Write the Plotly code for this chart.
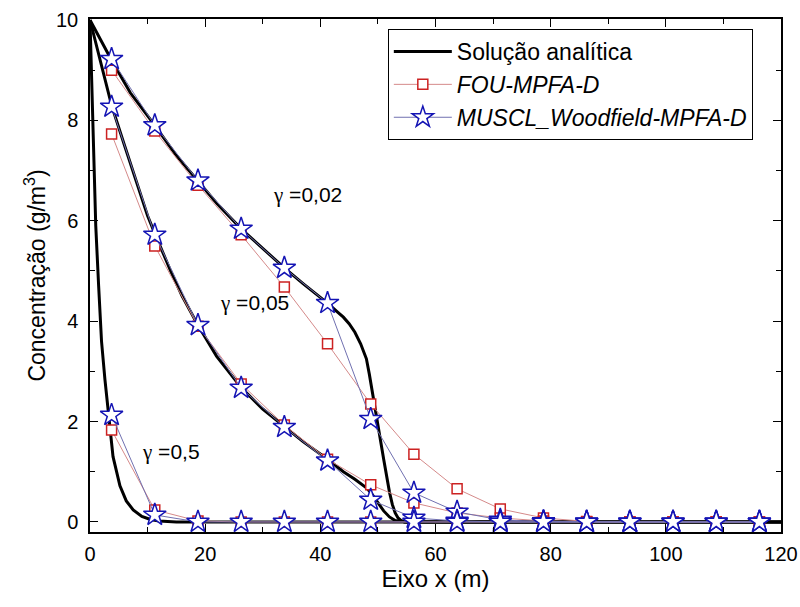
import plotly.graph_objects as go

# marker positions (cell centres)
x_cells = [3.75, 11.25, 18.75, 26.25, 33.75, 41.25, 48.75, 56.25,
           63.75, 71.25, 78.75, 86.25, 93.75, 101.25, 108.75, 116.25]

# FOU-MPFA-D
fou_002 = [9.0, 7.79, 6.71, 5.72, 4.68, 3.55, 2.35, 1.35, 0.66, 0.26, 0.08, 0.01, 0, 0, 0, 0]
fou_005 = [7.73, 5.5, 3.9, 2.75, 1.93, 1.25, 0.74, 0.38, 0.18, 0.08, 0.02, 0, 0, 0, 0, 0]
fou_05 = [1.83, 0.24, 0.02, 0, 0, 0, 0, 0, 0, 0, 0, 0, 0, 0, 0, 0]

# MUSCL_Woodfield-MPFA-D
muscl_002 = [9.22, 7.9, 6.8, 5.84, 5.06, 4.36, 2.05, 0.58, 0.2, 0.04, 0.01, 0, 0, 0, 0, 0]
muscl_005 = [8.27, 5.72, 3.92, 2.67, 1.89, 1.22, 0.44, 0.08, 0.02, 0, 0, 0, 0, 0, 0, 0]
muscl_05 = [2.13, 0.14, 0, 0, 0, 0, 0, 0, 0, 0, 0, 0, 0, 0, 0, 0]

# analytic solutions
ana_002_x = [0, 3.75, 7, 11.25, 15, 18.75, 22, 26.25, 30, 33.75, 37, 41.25, 43, 44, 45, 46,
             47, 48, 48.5, 49, 50, 51, 52, 52.5, 53, 53.5, 54, 54.6, 120]
ana_002_y = [10, 9.2, 8.55, 7.9, 7.3, 6.8, 6.35, 5.84, 5.45, 5.06, 4.75, 4.36, 4.18, 4.08, 3.95, 3.78,
             3.55, 3.25, 2.95, 2.6, 1.9, 1.25, 0.6, 0.35, 0.18, 0.08, 0.03, 0, 0]
ana_005_x = [0, 2, 3.75, 6, 8, 10, 11.25, 14, 16, 18.75, 22, 26.25, 30, 33.75, 37, 41.25,
             44, 46, 48, 49, 50, 51, 52, 53, 55, 120]
ana_005_y = [10, 9.1, 8.3, 7.5, 6.8, 6.1, 5.75, 5.0, 4.5, 3.92, 3.3, 2.68, 2.25, 1.9, 1.6, 1.25,
             1.0, 0.85, 0.68, 0.55, 0.38, 0.22, 0.1, 0.03, 0, 0]
ana_05_x = [0, 0.5, 1, 1.5, 2, 2.6, 3.5, 4, 5.2, 6.3, 7.5, 9, 10.5, 12, 15, 120]
ana_05_y = [10, 7.8, 5.9, 4.7, 3.6, 2.83, 1.83, 1.3, 0.72, 0.42, 0.24, 0.11, 0.05, 0.02, 0, 0]

gamma_labels = ["=0,02", "=0,05", "=0,5"]
gamma_pos = [(37.8, 6.51), (28.6, 4.36), (14.1, 1.39)]

BLACK = "black"
RED_M = "#cc2222"
RED_L = "#d58a8a"
BLUE_M = "#1414b4"
BLUE_L = "#7070b0"
FONT = "Liberation Sans, Arial"

fig = go.Figure()

for i, (ax, ay) in enumerate([(ana_002_x, ana_002_y), (ana_005_x, ana_005_y), (ana_05_x, ana_05_y)]):
    fig.add_trace(go.Scatter(x=ax, y=ay, mode="lines", line=dict(color=BLACK, width=3),
                             name="Solução analítica", showlegend=(i == 0), legendrank=1))

for i, fy in enumerate([fou_002, fou_005, fou_05]):
    fig.add_trace(go.Scatter(x=x_cells, y=fy, mode="lines+markers",
                             line=dict(color=RED_L, width=1),
                             marker=dict(symbol="square", size=10, color="white",
                                         line=dict(color=RED_M, width=1.5)),
                             name="<i>FOU-MPFA-D</i>", showlegend=(i == 0), legendrank=2))

for i, my in enumerate([muscl_002, muscl_005, muscl_05]):
    fig.add_trace(go.Scatter(x=x_cells, y=my, mode="lines+markers",
                             line=dict(color=BLUE_L, width=1),
                             marker=dict(symbol="star", size=17, color="white",
                                         line=dict(color=BLUE_M, width=1.5)),
                             name="<i>MUSCL_Woodfield-MPFA-D</i>", showlegend=(i == 0), legendrank=3))

for lab, (gx, gy) in zip(gamma_labels, gamma_pos):
    fig.add_annotation(x=gx, y=gy, xref="x", yref="y", showarrow=False,
                       text="<span style='font-family:Liberation Serif'>γ</span> " + lab,
                       font=dict(family=FONT, size=21, color="black"))

axis_common = dict(showline=True, linecolor="black", linewidth=1.5, mirror="ticks",
                   ticks="inside", ticklen=8, tickwidth=1.2, tickcolor="black",
                   showgrid=False, zeroline=False, automargin=False,
                   ticklabeloverflow="allow",
                   tickfont=dict(family=FONT, size=20, color="black"))

fig.update_xaxes(range=[0, 120], dtick=20, tick0=0, ticklabelstandoff=3,
                 minor=dict(ticks="inside", ticklen=5, dtick=10, tickcolor="black", showgrid=False),
                 title=dict(text="Eixo x (m)", font=dict(family=FONT, size=24, color="black"),
                            standoff=6),
                 **axis_common)
fig.update_yaxes(range=[-0.2, 10.02], dtick=2, tick0=0, ticklabelstandoff=6,
                 minor=dict(ticks="inside", ticklen=5, dtick=1, tickcolor="black", showgrid=False),
                 title=dict(text="Concentração (g/m<sup>3</sup>)",
                            font=dict(family=FONT, size=23, color="black"),
                            standoff=4),
                 **axis_common)

fig.update_layout(
    width=800, height=607,
    margin=dict(l=90, r=19, t=19, b=75),
    plot_bgcolor="white", paper_bgcolor="white",
    legend=dict(x=0.431, y=0.9805, xanchor="left", yanchor="top",
                bordercolor="black", borderwidth=1, bgcolor="white",
                font=dict(family=FONT, size=23, color="black"),
                tracegroupgap=0, itemwidth=58),
)

# remove the page's default body margin and scrollbars so the figure fills the window
fig.write_html("out.html",
               config={"displayModeBar": False},
               post_script="document.body.style.margin='0';"
                           "document.documentElement.style.overflow='hidden';")
